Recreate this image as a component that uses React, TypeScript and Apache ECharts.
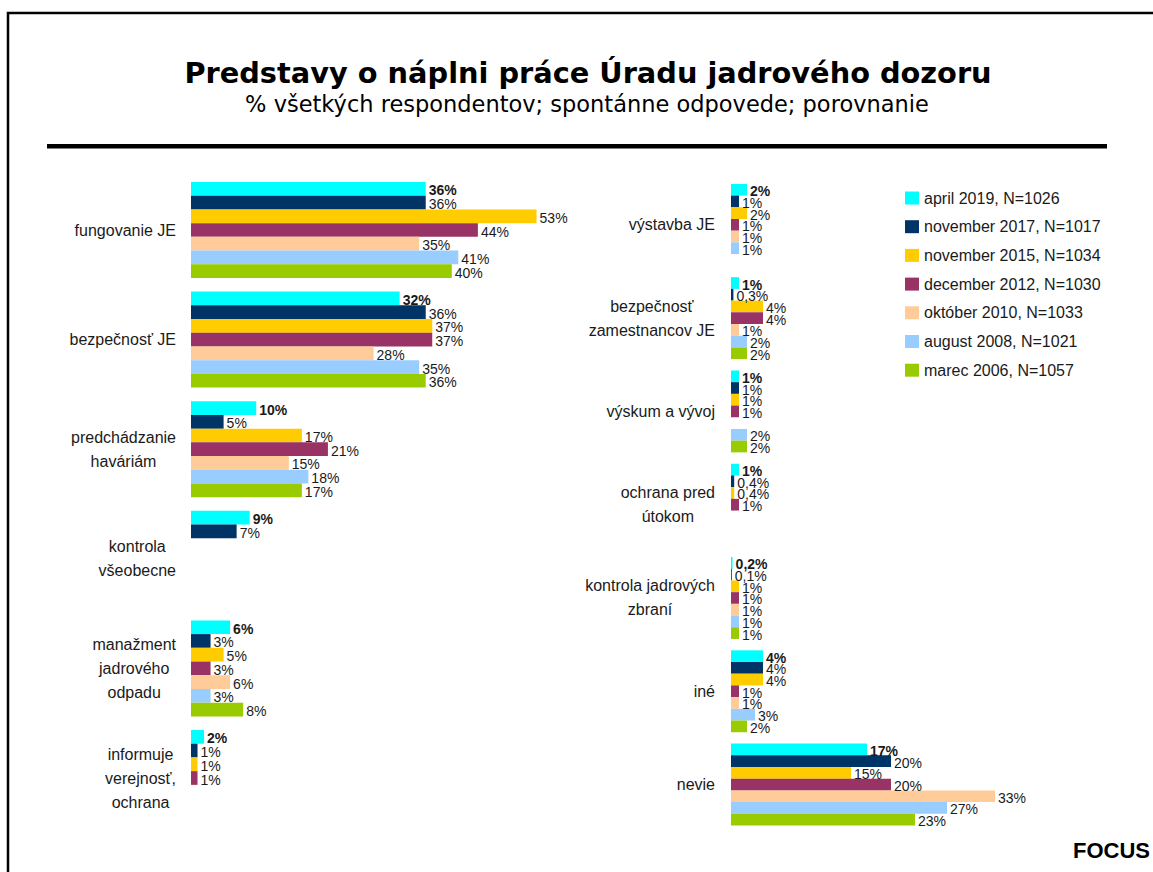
import React, { useEffect, useRef } from 'react';
import * as echarts from 'echarts';

// ---- data ----
const seriesNames = [
  'april 2019, N=1026',
  'november 2017, N=1017',
  'november 2015, N=1034',
  'december 2012, N=1030',
  'október 2010, N=1033',
  'august 2008, N=1021',
  'marec 2006, N=1057',
];
const seriesColors = ['#00FFFF', '#003366', '#FFCC00', '#993366', '#FFCC99', '#99CCFF', '#99CC00'];

const leftCategories = [
  'fungovanie JE',
  'bezpečnosť JE',
  'predchádzanie\nhaváriám',
  'kontrola\nvšeobecne',
  'manažment\njadrového\nodpadu',
  'informuje\nverejnosť,\nochrana',
];
const rightCategories = [
  'výstavba JE',
  'bezpečnosť\nzamestnancov JE',
  'výskum a vývoj',
  'ochrana pred\nútokom',
  'kontrola jadrových\nzbraní',
  'iné',
  'nevie',
];

const april2019Left = [36, 32, 10, 9, 6, 2];
const nov2017Left = [36, 36, 5, 7, 3, 1];
const nov2015Left = [53, 37, 17, null, 5, 1];
const dec2012Left = [44, 37, 21, null, 3, 1];
const okt2010Left = [35, 28, 15, null, 6, null];
const aug2008Left = [41, 35, 18, null, 3, null];
const mar2006Left = [40, 36, 17, null, 8, null];

const april2019Right = [2, 1, 1, 1, 0.2, 4, 17];
const nov2017Right = [1, 0.3, 1, 0.4, 0.1, 4, 20];
const nov2015Right = [2, 4, 1, 0.4, 1, 4, 15];
const dec2012Right = [1, 4, 1, 1, 1, 1, 20];
const okt2010Right = [1, 1, null, null, 1, 1, 33];
const aug2008Right = [1, 2, 2, null, 1, 3, 27];
const mar2006Right = [null, 2, 2, null, 1, 2, 23];

const leftData = [april2019Left, nov2017Left, nov2015Left, dec2012Left, okt2010Left, aug2008Left, mar2006Left];
const rightData = [april2019Right, nov2017Right, nov2015Right, dec2012Right, okt2010Right, aug2008Right, mar2006Right];

const titleText = 'Predstavy o náplni práce Úradu jadrového dozoru';
const subtitleText = '% všetkých respondentov; spontánne odpovede; porovnanie';
const sourceText = 'FOCUS';

const FONT = '"Liberation Sans", Arial, sans-serif';
const TEXT_COLOR = '#1a1a1a';

function catLabel(v: string) {
  return v.split('\n').map((l) => `{c|${l}}`).join('\n');
}

function valueLabel(p: any) {
  if (p.value == null) return '';
  return String(p.value).replace('.', ',') + '%';
}

export default function App() {
  const ref = useRef<HTMLDivElement>(null);

  useEffect(() => {
    if (!ref.current) return;
    const chart = echarts.init(ref.current, undefined, { renderer: 'svg' });

    const series: any[] = [];
    seriesNames.forEach((name, i) => {
      const common = {
        type: 'bar',
        name,
        barGap: '0%',
        itemStyle: { color: seriesColors[i] },
        emphasis: { disabled: true },
        label: {
          show: true,
          position: 'right',
          distance: 3,
          offset: [0, 1.5],
          formatter: valueLabel,
          fontFamily: FONT,
          fontSize: 14,
          fontWeight: i === 0 ? 'bold' : 'normal',
          color: TEXT_COLOR,
        },
      };
      series.push({ ...common, xAxisIndex: 0, yAxisIndex: 0, barCategoryGap: '12.4%', data: leftData[i] });
      series.push({ ...common, xAxisIndex: 1, yAxisIndex: 1, barCategoryGap: '12.2%', data: rightData[i] });
    });

    const yAxisCommon = {
      type: 'category',
      inverse: true,
      axisLine: { show: false },
      axisTick: { show: false },
      splitLine: { show: false },
      axisLabel: {
        formatter: catLabel,
        rich: {
          c: { align: 'center', fontSize: 16, lineHeight: 24, fontFamily: FONT, color: TEXT_COLOR },
        },
      },
    };

    chart.setOption({
      animation: false,
      grid: [
        { left: 191, top: 175.2, width: 391.2, height: 657.6 },
        { left: 731, top: 178.2, width: 320, height: 653 },
      ],
      xAxis: [
        { type: 'value', gridIndex: 0, min: 0, max: 60, show: false },
        { type: 'value', gridIndex: 1, min: 0, max: 40, show: false },
      ],
      yAxis: [
        { ...yAxisCommon, gridIndex: 0, data: leftCategories, axisLabel: { ...yAxisCommon.axisLabel, margin: 15 } },
        { ...yAxisCommon, gridIndex: 1, data: rightCategories, axisLabel: { ...yAxisCommon.axisLabel, margin: 16 } },
      ],
      legend: {
        orient: 'vertical',
        left: 900,
        top: 185,
        itemWidth: 14,
        itemHeight: 13,
        itemGap: 12.7,
        icon: 'rect',
        selectedMode: false,
        textStyle: { fontSize: 16, fontFamily: FONT, color: TEXT_COLOR },
        data: seriesNames,
      },
      graphic: [
        {
          type: 'polyline',
          silent: true,
          shape: { points: [[8, 872], [8, 13], [1153, 13]] },
          style: { stroke: '#000', lineWidth: 2.5, fill: null },
        },
        {
          type: 'rect',
          silent: true,
          shape: { x: 47, y: 144, width: 1060, height: 4.5 },
          style: { fill: '#000' },
        },
        {
          type: 'text',
          silent: true,
          x: 588,
          y: 73,
          style: {
            text: titleText,
            align: 'center',
            verticalAlign: 'middle',
            fontSize: 28.8,
            fontWeight: 'bold',
            fontFamily: '"DejaVu Sans", Verdana, sans-serif',
            fill: '#000',
          },
        },
        {
          type: 'text',
          silent: true,
          x: 587,
          y: 104,
          style: {
            text: subtitleText,
            align: 'center',
            verticalAlign: 'middle',
            fontSize: 22.5,
            fontFamily: '"DejaVu Sans", Verdana, sans-serif',
            fill: '#000',
          },
        },
        {
          type: 'text',
          silent: true,
          x: 1150,
          y: 850,
          style: {
            text: sourceText,
            align: 'right',
            verticalAlign: 'middle',
            fontSize: 22,
            fontWeight: 'bold',
            fontFamily: FONT,
            fill: '#000',
          },
        },
      ],
      series,
    });

    return () => chart.dispose();
  }, []);

  return (
    <div
      ref={ref}
      style={{ position: 'absolute', left: 0, top: 0, width: 1153, height: 872, background: '#fff' }}
    />
  );
}
